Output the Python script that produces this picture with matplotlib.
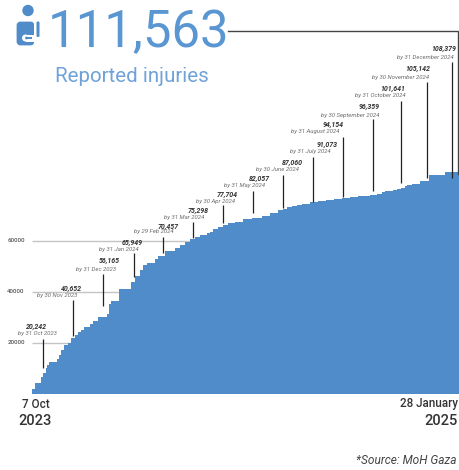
import matplotlib
matplotlib.use("Agg")
import matplotlib.pyplot as plt
from matplotlib.patches import Circle, FancyBboxPatch, Rectangle

plt.rcParams['font.family'] = ['Roboto', 'DejaVu Sans']

# cumulative reported injuries as drawn (steps: day since 7 Oct 2023, value)
step_day = [0, 3, 10, 12, 16, 17, 19, 28, 30, 33, 36, 40, 44, 48, 52, 55, 59, 65, 69, 74, 84, 86, 89,
            98, 111, 116, 121, 125, 129, 138, 142, 149, 161, 166, 172, 178, 183, 189, 197, 200, 203,
            209, 215, 220, 228, 237, 247, 258, 267, 276, 282, 287, 292, 298, 303, 313, 321, 331, 340,
            348, 357, 366, 380, 388, 393, 397, 406, 410, 415, 419, 422, 427, 436, 446, 464, 480]
step_value = [1765, 4118, 6470, 8160, 10000, 11180, 12470, 13530, 15100, 17060, 19020, 19920, 21760,
              22940, 24120, 24900, 26200, 27250, 28550, 30000, 31180, 35100, 36280, 40980, 43730, 46200,
              48430, 50390, 51290, 52750, 54040, 56000, 57060, 58240, 59530, 60590, 61370, 62160, 62940,
              63450, 64510, 65290, 66080, 66860, 67370, 68430, 68820, 69730, 70780, 71960, 72470, 73020,
              73530, 73920, 74310, 75100, 75490, 75880, 76390, 76780, 77060, 77450, 77730, 78230, 78900,
              79410, 79800, 80200, 80590, 81250, 81760, 82160, 83330, 85690, 86860, 86860]
grid_values = [20000, 40000, 60000]

month_totals = ["20,242", "40,652", "56,165", "65,949", "70,457", "75,298", "77,704", "82,057",
                "87,060", "91,073", "94,154", "96,359", "101,641", "105,142", "108,379"]
month_labels = ["by 31 Oct 2023", "by 30 Nov 2023", "by 31 Dec 2023", "by 31 Jan 2024", "by 29 Feb 2024",
                "by 31 Mar 2024", "by 30 Apr 2024", "by 31 May 2024", "by 30 June 2024", "by 31 July 2024",
                "by 31 August 2024", "by 30 September 2024", "by 31 October 2024", "by 30 November 2024",
                "by 31 December 2024"]

# layout in pixels: total label (x, y), date label (x, y), leader (x, top, bottom)
total_pos = [(36, 327), (71, 289), (109, 261), (132, 242), (168, 226), (198, 210), (227, 194), (259, 178),
             (292, 162), (327, 144), (333, 125), (369, 107), (393, 88), (418, 68), (444, 49)]
date_pos = [(37, 334), (57, 296), (96, 269), (119, 249), (153.5, 232), (184, 217), (215, 201), (244, 185),
            (277, 169), (310, 152), (315, 132), (350, 115), (380, 96), (400, 77), (425, 57)]
leaders = [(43, 339, 368), (73, 300, 336), (103, 274, 306), (133.5, 253, 277), (163, 237, 253),
           (193, 222, 238), (223, 205, 223), (253, 191, 213), (283, 175, 208), (313, 157, 202),
           (343, 137, 197), (373, 119, 191), (401, 101, 183), (427, 82, 178), (452, 62, 178)]

W, H = 459, 470
BLUE = '#4f8cc9'
fig = plt.figure(figsize=(W / 100, H / 100), dpi=100)

# chart axes: x 32..459 px, baseline at y=393.5 px
ax = fig.add_axes([32 / W, (H - 393.5) / H, (W - 32) / W, 393.5 / H])
ax.set_xlim(0, 480)
ax.set_ylim(0, 393.5 * 392.16)
ax.axis('off')
ax.hlines(grid_values, 0, 480, color='#c4c4c4', lw=1.0, zorder=1)
ax.fill_between(step_day, step_value, 0, step='post', color=BLUE, lw=0, zorder=2)

# overlay in pixel coordinates
ov = fig.add_axes([0, 0, 1, 1], facecolor='none')
ov.set_xlim(0, W)
ov.set_ylim(H, 0)
ov.axis('off')

for v in grid_values:
    yp = 393.5 - v / 392.16
    ov.text(16, yp, str(v), fontsize=4.4, color='#555555', weight='medium', ha='center', va='center')

for (tx, ty), (dx, dy), (lx, l0, l1), t, d in zip(total_pos, date_pos, leaders, month_totals, month_labels):
    ov.text(tx, ty, t, fontsize=5.0, style='italic', weight='bold', color='#333333', ha='center', va='center')
    ov.text(dx, dy, d, fontsize=4.3, style='italic', color='#6e6e6e', ha='center', va='center')
    ov.plot([lx, lx], [l0, l1], color='#222222', lw=0.9, solid_capstyle='butt')

# total connector
ov.plot([228, 458, 458], [31, 31, 174], color='#444444', lw=1.0, solid_joinstyle='miter')

# headline
ov.text(139, 33, "111,563", fontsize=36.6, color='#5a96d2', ha='center', va='center')
ov.text(132, 76, "Reported injuries", fontsize=14.8, color='#6fa2d9', ha='center', va='center')

# icon
ov.add_patch(Circle((28, 10.5), 5.7, color=BLUE, lw=0))
ov.add_patch(FancyBboxPatch((18, 23), 15, 21, boxstyle='round,pad=0,rounding_size=2.5', fc=BLUE, ec=BLUE, lw=2))
ov.add_patch(Rectangle((33.5, 20), 2.2, 28, fc='white', ec='none', zorder=3))
ov.add_patch(FancyBboxPatch((36.5, 21.5), 3, 15.5, boxstyle='round,pad=0,rounding_size=1.2', fc=BLUE, ec='none', zorder=3))
ov.add_patch(Circle((25.5, 38), 3.5, fc='white', ec='none', zorder=3))
ov.add_patch(Rectangle((26, 34.5), 8, 7, fc='white', ec='none', zorder=3))
ov.add_patch(Circle((26.5, 38), 1.4, fc=BLUE, ec='none', zorder=4))
ov.add_patch(Rectangle((26.5, 36.6), 5, 2.8, fc=BLUE, ec='none', zorder=4))

# axis end labels
ov.text(35.5, 404, "7 Oct", fontsize=8.4, color='#333333', ha='center', va='center', weight='medium')
ov.text(35.5, 421, "2023", fontsize=10.5, color='#333333', ha='center', va='center', weight='medium')
ov.text(458, 403, "28 January", fontsize=8.4, color='#333333', ha='right', va='center', weight='medium')
ov.text(458, 421, "2025", fontsize=10.5, color='#333333', ha='right', va='center', weight='medium')
ov.text(457, 460, "*Source: MoH Gaza", fontsize=8.6, color='#444444', ha='right', va='center', style='italic')

fig.savefig("out.png", dpi=100)
